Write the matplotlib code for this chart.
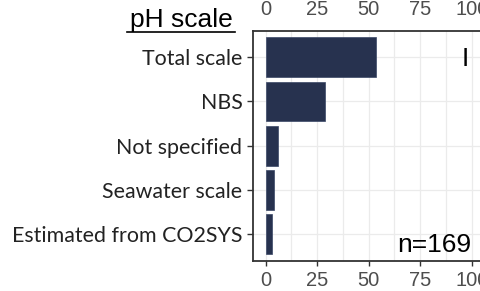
import matplotlib
matplotlib.use("Agg")
import matplotlib.pyplot as plt
from matplotlib.ticker import MultipleLocator

categories = ["Total scale", "NBS", "Not specified", "Seawater scale", "Estimated from CO2SYS"]
values = [53.5, 29, 6, 4, 3]
x_ticks = [0, 25, 50, 75, 100]
n_label = "n=169"
panel_label = "I"
title = "pH scale"

W, H = 481, 291
fig = plt.figure(figsize=(W / 100, H / 100), dpi=100)

# axes box in pixels
left, right = 253.5, 482.0
top, bottom = 30.7, 260.7
ax = fig.add_axes([left / W, 1 - bottom / H, (right - left) / W, (bottom - top) / H])

ypos = list(range(len(categories)))
ax.barh(ypos, values, height=0.9, color="#27324F", edgecolor="#3a4766", linewidth=0.5, zorder=3)
ax.set_ylim(len(categories) - 0.4, -0.6)
ax.set_xlim(-5.9, 105)

ax.set_xticks(x_ticks)
ax.xaxis.set_minor_locator(MultipleLocator(12.5))
ax.set_yticks(ypos)
ax.set_yticklabels(categories, family="Lato", fontsize=15.4, color="#222222")
ax.tick_params(axis="x", labelsize=14.5, labelcolor="#4D4D4D", length=3.5, width=1, color="#333333", pad=4)
ax.tick_params(axis="y", length=4, width=1, color="#333333", pad=4)
ax.tick_params(axis="x", which="minor", length=0)
for lab in ax.get_xticklabels():
    lab.set_family("Liberation Sans")

ax.grid(True, which="major", color="#EBEBEB", linewidth=0.9, zorder=0)
ax.grid(True, which="minor", axis="x", color="#EBEBEB", linewidth=0.9, zorder=0)
ax.set_axisbelow(True)
for sp in ax.spines.values():
    sp.set_color("#333333")
    sp.set_linewidth(1.3)

ax.text(0.925, 0.875, panel_label, transform=ax.transAxes, ha="center", va="center",
        fontsize=19, family="Liberation Sans", color="black")
ax.text(0.955, 0.038, n_label, transform=ax.transAxes, ha="right", va="baseline",
        fontsize=19, family="Liberation Sans", color="black")

# tick labels of the panel above (cut off at the figure top)
sec = ax.secondary_xaxis(1.053)
sec.set_xticks(x_ticks)
sec.tick_params(length=0, pad=0, labelsize=14.5, labelcolor="#4D4D4D")
for lab in sec.get_xticklabels():
    lab.set_family("Liberation Sans")
sec.spines["top"].set_visible(False)

fig.text(181 / W, 1 - 20 / H, title, ha="center", va="center", fontsize=19,
         family="Liberation Sans", color="black")
fig.add_artist(plt.Line2D([127 / W, 235 / W], [1 - 32 / H, 1 - 32 / H], color="black", linewidth=1.2))

fig.savefig("out.png", dpi=100)
